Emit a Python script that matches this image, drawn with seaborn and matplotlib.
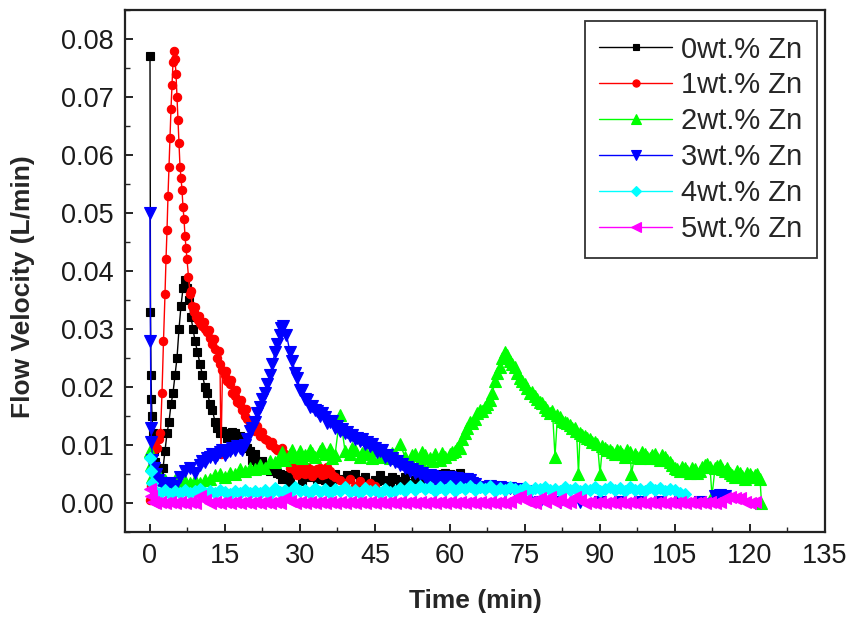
import numpy as np
import pandas as pd
import matplotlib
matplotlib.use("Agg")
import matplotlib.pyplot as plt
from matplotlib.ticker import AutoMinorLocator, FormatStrFormatter
import seaborn as sns

# ---------------- data: flow velocity (L/min) vs time (min) ----------------
labels = ["0wt.% Zn", "1wt.% Zn", "2wt.% Zn", "3wt.% Zn", "4wt.% Zn", "5wt.% Zn"]
colors = ["#000000", "#ff0000", "#00ff00", "#0000ff", "#00ffff", "#ff00ff"]
markers = ["s", "o", "^", "v", "D", "<"]

t_0 = [0, 0.1, 0.2, 0.3, 0.4, 0.6, 0.8, 1.0, 1.4, 1.8, 2.2, 2.6, 3.0, 3.4, 3.8, 4.2, 4.6, 5.0,
       5.4, 5.8, 6.2, 6.6, 7.0, 7.4, 7.8, 8.2, 8.6, 9.0, 9.5, 10.0, 10.5, 11.0, 11.5, 12.0, 12.5,
       13.0, 13.5, 14.0, 15, 16, 17, 18, 18.5, 19, 19.5, 20, 20.5, 21, 21.5, 22, 23, 24, 25, 26,
       27, 28, 29, 30, 31, 32, 33, 34, 35, 36, 37, 38, 39, 40, 41, 42, 43, 44, 45, 46, 47, 48, 49,
       50, 51, 52, 53, 54, 55, 56, 57, 58, 59, 60, 61, 62, 63]
v_0 = [0.077, 0.033, 0.022, 0.018, 0.015, 0.012, 0.009, 0.007, 0.006, 0.005, 0.004, 0.006, 0.009,
       0.012, 0.014, 0.017, 0.019, 0.022, 0.025, 0.030, 0.034, 0.037, 0.0385, 0.037, 0.035, 0.032,
       0.030, 0.028, 0.026, 0.024, 0.022, 0.020, 0.019, 0.017, 0.016, 0.014, 0.013, 0.012, 0.012,
       0.0118, 0.012, 0.0115, 0.0105, 0.010, 0.0095, 0.009, 0.0075, 0.0085, 0.007, 0.0065, 0.006,
       0.0055, 0.0058, 0.005, 0.0045, 0.0035, 0.005, 0.0052, 0.005, 0.0045, 0.0052, 0.005, 0.004,
       0.0048, 0.005, 0.0042, 0.0035, 0.0045, 0.005, 0.004, 0.0045, 0.0035, 0.004, 0.0048, 0.004,
       0.0035, 0.0042, 0.0038, 0.0045, 0.0035, 0.004, 0.003, 0.004, 0.0045, 0.0045, 0.005, 0.0052,
       0.005, 0.0048, 0.0052, 0.0045]
# extra readings between the whole minutes
t_0x = [14.5, 15.5, 16.5, 17.5, 22.5, 23.5, 24.5, 25.5, 26.5, 27.5, 30.5, 33.5, 36.5, 39.5, 42.5,
        45.5, 48.5, 51.5]
v_0x = [0.0125, 0.0112, 0.0122, 0.0112, 0.0072, 0.0058, 0.0062, 0.0052, 0.0042, 0.0048, 0.0038,
        0.0042, 0.0036, 0.0048, 0.0032, 0.0038, 0.0044, 0.0032]

t_1 = [0, 0.3, 0.6, 1.0, 1.4, 1.8, 2.1, 2.4, 2.7, 3.0, 3.2, 3.4, 3.6, 3.8, 4.0, 4.2, 4.4, 4.6, 4.8,
       5.0, 5.2, 5.4, 5.6, 5.8, 6.0, 6.2, 6.4, 6.6, 6.8, 7.0, 7.2, 7.4, 7.7, 8.0, 8.4, 8.8, 9.2, 9.6,
       10.0, 10.5, 11.0, 11.5, 12.0, 12.5, 13.0, 13.5, 14.0, 14.2, 14.5, 15.0, 15.5, 16.0, 16.5,
       17.0, 17.5, 18.0, 18.5, 19.0, 19.5, 20, 21, 22, 23, 24, 25, 26, 27, 28, 29, 30, 31, 32, 33,
       34, 35, 36, 37, 38, 39, 40, 41, 42, 43, 44, 45]
v_1 = [0.0005, 0.003, 0.009, 0.0105, 0.0095, 0.011, 0.012, 0.019, 0.028, 0.036, 0.042, 0.047,
       0.053, 0.058, 0.063, 0.068, 0.072, 0.076, 0.078, 0.0765, 0.074, 0.070, 0.066, 0.062, 0.058,
       0.056, 0.054, 0.051, 0.049, 0.046, 0.044, 0.042, 0.039, 0.036, 0.034, 0.033, 0.032, 0.0315,
       0.031, 0.0305, 0.030, 0.0295, 0.0285, 0.0275, 0.0265, 0.025, 0.024, 0.0085, 0.023, 0.022,
       0.021, 0.0205, 0.019, 0.0185, 0.0175, 0.017, 0.016, 0.015, 0.0145, 0.0135, 0.0125, 0.0115,
       0.011, 0.010, 0.0095, 0.009, 0.0085, 0.006, 0.0055, 0.006, 0.005, 0.0058, 0.0052, 0.006,
       0.005, 0.0055, 0.0045, 0.004, 0.0035, 0.0042, 0.003, 0.0038, 0.003, 0.0035, 0.003]
t_1x = [8.2, 9.0, 9.8, 10.8, 11.8, 12.8, 13.8, 15.2, 16.2, 17.2, 18.2, 19.2, 20.5, 21.5, 22.5,
        23.5, 24.5, 25.5, 26.5, 27.5, 28.5, 29.5, 30.5, 31.5, 32.5, 33.5, 34.5, 35.5, 36.5]
v_1x = [0.0365, 0.0338, 0.0322, 0.0312, 0.0298, 0.0282, 0.0262, 0.0228, 0.0212, 0.0195, 0.0178,
        0.0162, 0.0142, 0.0132, 0.0122, 0.0108, 0.0105, 0.0092, 0.0095, 0.0078, 0.0065, 0.0048,
        0.0052, 0.0062, 0.0046, 0.0058, 0.0048, 0.0062, 0.0048]

t_2 = [0, 0.2, 0.5, 1, 2, 3, 4, 5, 6, 7, 8, 9, 10, 11, 12, 13, 14, 15, 16, 17, 18, 19, 20, 21, 22,
       23, 24, 25, 26, 27, 28, 29, 30, 31, 32, 33, 34, 35, 36, 37, 38, 39, 40, 41, 42, 43, 44, 45,
       46, 47, 48, 49, 50, 51, 52, 53, 54, 55, 56, 57, 58, 59, 60, 61, 62, 63, 64, 65, 66, 67, 68,
       69, 70, 71, 72, 73, 74, 75, 76, 77, 78, 79, 80, 81, 81.5, 82, 83, 84, 85, 85.7, 86, 87, 88,
       89, 90, 90.5, 91, 92, 93, 94, 95, 96, 96.3, 97, 98, 99, 100, 101, 102, 103, 104, 105, 106,
       107, 108, 109, 110, 111, 112, 112.4, 113, 114, 115, 116, 117, 118, 119, 120, 121, 122, 122.3]
v_2 = [0.009, 0.0065, 0.0045, 0.0045, 0.0045, 0.004, 0.0035, 0.004, 0.003, 0.0038, 0.0035, 0.004,
       0.0035, 0.004, 0.0042, 0.0048, 0.005, 0.0045, 0.0052, 0.005, 0.0058, 0.0055, 0.006, 0.0058,
       0.0065, 0.006, 0.0072, 0.007, 0.008, 0.0075, 0.0085, 0.008, 0.009, 0.0082, 0.0092, 0.008,
       0.009, 0.0085, 0.0093, 0.0082, 0.0152, 0.009, 0.0085, 0.0092, 0.008, 0.009, 0.0085, 0.0092,
       0.008, 0.0088, 0.0078, 0.0085, 0.0101, 0.008, 0.0075, 0.0085, 0.0075, 0.0082, 0.0078,
       0.0085, 0.0075, 0.008, 0.0085, 0.009, 0.0095, 0.012, 0.014, 0.0145, 0.016, 0.0165, 0.0178,
       0.021, 0.0235, 0.026, 0.0245, 0.0235, 0.0215, 0.0205, 0.019, 0.0185, 0.0175, 0.0165,
       0.0155, 0.008, 0.0152, 0.0148, 0.014, 0.0135, 0.013, 0.005, 0.012, 0.0115, 0.011, 0.0105,
       0.005, 0.0098, 0.0095, 0.0092, 0.0085, 0.009, 0.008, 0.0088, 0.005, 0.0085, 0.0078, 0.0085,
       0.0078, 0.0085, 0.0075, 0.008, 0.007, 0.006, 0.0055, 0.006, 0.0052, 0.0058, 0.0055, 0.0065,
       0.0062, 0.0012, 0.006, 0.0066, 0.0055, 0.0052, 0.0045, 0.0052, 0.0042, 0.005, 0.0048,
       0.0042, 0.0]
t_2x = [26.5, 28.5, 30.5, 32.5, 34.5, 36.5, 40.5, 42.5, 44.5, 46.5, 48.5, 52.5, 54.5, 56.5, 58.5,
        60.5, 61.5, 62.5, 63.5, 64.5, 65.5, 66.5, 67.5, 68.5, 69.5, 70.5, 71.5, 72.5, 73.5, 74.5,
        75.5, 76.5, 77.5, 78.5, 79.5, 80.5, 82.5, 83.5, 84.5, 85.3, 86.5, 87.5, 88.5, 89.5, 91.5,
        92.5, 93.5, 94.5, 95.5, 97.5, 98.5, 99.5, 100.5, 101.5, 102.5, 103.5, 104.5, 105.5, 106.5,
        107.5, 108.5, 109.5, 110.5, 111.5, 113.5, 114.5, 115.5, 116.5, 117.5, 118.5, 119.5, 120.5,
        121.5]
v_2x = [0.0088, 0.0092, 0.0078, 0.0086, 0.0094, 0.0078, 0.0094, 0.0086, 0.0078, 0.0092, 0.0086,
        0.0082, 0.0088, 0.0072, 0.0086, 0.0088, 0.0095, 0.011, 0.013, 0.0138, 0.0155, 0.0158,
        0.017, 0.019, 0.0225, 0.025, 0.0255, 0.024, 0.0225, 0.021, 0.0198, 0.0192, 0.018, 0.0172,
        0.016, 0.0158, 0.0142, 0.0138, 0.013, 0.0125, 0.0118, 0.0112, 0.0105, 0.0102, 0.0092,
        0.0088, 0.0092, 0.0085, 0.0092, 0.008, 0.0088, 0.008, 0.0082, 0.0078, 0.0083, 0.0075,
        0.0065, 0.0058, 0.0062, 0.0055, 0.006, 0.0052, 0.0062, 0.0068, 0.0064, 0.0058, 0.006,
        0.0048, 0.0055, 0.0046, 0.0052, 0.0045, 0.005]

t_3 = [0, 0.1, 0.2, 0.3, 0.5, 0.8, 1.2, 1.7, 2.2, 3, 4, 5, 6, 7, 8, 9, 10, 11, 12, 13, 14, 15,
       16, 17, 18, 19, 20, 21, 22, 23, 24, 25, 26, 26.7, 27.3, 28, 29, 30, 31, 32, 33, 34, 35, 36,
       37, 38, 39, 40, 41, 42, 43, 44, 45, 46, 47, 48, 49, 50, 51, 52, 53, 54, 55, 56, 57, 58, 59,
       60, 61, 62, 63, 64, 65, 66, 67, 68, 69, 70, 71, 72, 73, 74, 75, 78, 82, 86, 90, 94, 98,
       102, 106, 110, 113, 114, 115]
v_3 = [0.050, 0.028, 0.013, 0.0105, 0.0075, 0.006, 0.005, 0.004, 0.0035, 0.003, 0.0035, 0.003,
       0.0045, 0.0055, 0.006, 0.0052, 0.0065, 0.007, 0.008, 0.0078, 0.0088, 0.0082, 0.009, 0.0092,
       0.0095, 0.010, 0.0125, 0.014, 0.0165, 0.019, 0.022, 0.026, 0.029, 0.0305, 0.029, 0.026,
       0.0225, 0.0195, 0.018, 0.0165, 0.016, 0.015, 0.0148, 0.014, 0.013, 0.0125, 0.012, 0.0115,
       0.011, 0.0107, 0.0102, 0.0098, 0.0095, 0.009, 0.008, 0.0075, 0.007, 0.0065, 0.006, 0.0055,
       0.0052, 0.005, 0.0045, 0.0048, 0.004, 0.0045, 0.0038, 0.0044, 0.0036, 0.0042, 0.0035,
       0.004, 0.0032, 0.0028, 0.0024, 0.003, 0.0022, 0.0028, 0.002, 0.0026, 0.002, 0.0025, 0.002,
       0.0001, 0.0001, 0.0001, 0.0001, 0.0001, 0.0001, 0.0001, 0.0001, 0.0001, 0.0012, 0.0013,
       0.0012]
t_3x = [10.5, 11.5, 12.5, 13.5, 14.5, 15.5, 16.5, 17.5, 18.5, 19.5, 20.5, 21.5, 22.5, 23.5, 24.5,
        25.5, 26.3, 28.5, 29.5, 30.5, 31.5, 32.5, 33.5, 34.5, 35.5, 36.5, 37.5, 38.5, 39.5, 40.5,
        41.5, 42.5, 43.5, 44.5, 45.5, 46.5, 47.5, 48.5, 49.5, 50.5, 51.5, 52.5, 53.5, 54.5, 55.5,
        56.5, 57.5, 58.5, 59.5, 60.5, 61.5, 62.5, 63.5, 64.5]
v_3x = [0.0072, 0.0078, 0.0085, 0.0082, 0.0092, 0.0088, 0.0095, 0.0098, 0.0092, 0.011, 0.013,
        0.0155, 0.018, 0.0205, 0.024, 0.0275, 0.0302, 0.0245, 0.0215, 0.0195, 0.0178, 0.0168,
        0.0158, 0.0155, 0.0138, 0.0142, 0.0132, 0.0128, 0.0122, 0.0118, 0.0112, 0.011, 0.0105,
        0.0102, 0.0088, 0.0092, 0.0082, 0.0078, 0.0072, 0.0068, 0.0062, 0.0058, 0.0055, 0.0052,
        0.0042, 0.0046, 0.0042, 0.0038, 0.0045, 0.0038, 0.0043, 0.0037, 0.0042, 0.0034]

t_4 = [0, 0.2, 0.4, 0.7, 1, 2, 3, 4, 5, 6, 7, 8, 9, 10, 11, 12, 13, 14, 15, 16, 17, 18, 19, 20,
       21, 22, 23, 24, 25, 26, 27, 28, 29, 30, 31, 32, 33, 34, 35, 36, 37, 38, 39, 40, 41, 42, 43,
       44, 45, 46, 47, 48, 49, 50, 51, 52, 53, 54, 55, 56, 57, 58, 59, 60, 61, 62, 63, 64, 65, 66,
       67, 68, 69, 70, 71, 72, 73, 74, 75, 76, 77, 78, 79, 80, 81, 82, 83, 84, 85, 86, 87, 88, 89,
       90, 91, 92, 93, 94, 95, 96, 97, 98, 99, 100, 101, 102, 103, 104, 105, 106, 107]
v_4 = [0.0078, 0.0055, 0.0035, 0.0025,
       0.002, 0.0018, 0.0022, 0.0016, 0.002, 0.0018, 0.0023, 0.0017, 0.002, 0.0024,
       0.0018, 0.0021, 0.0017, 0.0022, 0.0019, 0.0016, 0.0021, 0.0018, 0.0023, 0.0017,
       0.002, 0.0018, 0.0022, 0.0016, 0.0026, 0.0019, 0.0023, 0.0018, 0.0027, 0.002,
       0.0022, 0.0018, 0.0026, 0.0019, 0.0024, 0.0017, 0.0025, 0.002, 0.0028, 0.0019,
       0.0023, 0.0018, 0.0026, 0.002, 0.0022, 0.0017, 0.0024, 0.0019, 0.0021, 0.0026,
       0.002, 0.0029, 0.0022, 0.003, 0.0024, 0.0028, 0.002, 0.0027, 0.0023, 0.0029,
       0.0021, 0.0027, 0.0024, 0.003, 0.0022, 0.0028, 0.0025, 0.0029, 0.0021, 0.0026,
       0.0022, 0.0027, 0.0025, 0.0023, 0.0028, 0.0021, 0.0026, 0.0024, 0.0028, 0.0022,
       0.0025, 0.0021, 0.0027, 0.0023, 0.0026, 0.0021, 0.0025, 0.0022, 0.0027, 0.0021,
       0.0024, 0.0028, 0.0022, 0.0026, 0.0021, 0.0027, 0.0023, 0.0025, 0.0021, 0.0027,
       0.0022, 0.0026, 0.0021, 0.0025, 0.0022, 0.0018, 0.0015]
t_4x = []
v_4x = []

t_5 = [0, 0.3, 0.6, 1, 2, 3, 4, 5, 6, 7, 8, 9, 10, 11, 12, 13, 14, 15, 16, 17, 18, 19, 20, 21, 22,
       23, 24, 25, 26, 27, 28, 29, 30, 31, 32, 33, 34, 35, 36, 37, 38, 39, 40, 41, 42, 43, 44, 45,
       46, 47, 48, 49, 50, 51, 52, 53, 54, 55, 56, 57, 58, 59, 60, 61, 62, 63, 64, 65, 66, 67, 68,
       69, 70, 71, 72, 73, 74, 75, 76, 77, 78, 79, 80, 81, 82, 83, 84, 85, 86, 87, 88, 89, 90, 91,
       92, 93, 94, 95, 96, 97, 98, 99, 100, 101, 102, 103, 104, 105, 106, 107, 108, 109, 110, 111,
       112, 113, 114, 115, 116, 117, 118, 119, 120, 121]
v_5 = [0.0025, 0.0012, 0.0002,
       0.0, 0.0002, 0.0, 0.0002, 0.0, 0.0002, 0.0, 0.0002, 0.0, 0.0012,
       0.0006, 0.0, 0.0002, 0.0, 0.0002, 0.0, 0.0002, 0.0, 0.0002, 0.0,
       0.0002, 0.0, 0.0002, 0.0, 0.0002, 0.0, 0.0009, 0.0004, 0.0, 0.0002,
       0.0, 0.0002, 0.0, 0.0002, 0.0, 0.0002, 0.0, 0.0002, 0.0, 0.0002,
       0.0, 0.0002, 0.0, 0.0002, 0.0, 0.0002, 0.0, 0.0002, 0.0, 0.0002,
       0.0, 0.0002, 0.0, 0.0002, 0.0, 0.0002, 0.0, 0.0002, 0.0, 0.0002,
       0.0, 0.0002, 0.0, 0.0002, 0.0, 0.0002, 0.0, 0.0002, 0.0, 0.0002,
       0.0, 0.0002, 0.0008, 0.0012, 0.0006, 0.0002, 0.0, 0.0009, 0.0002, 0.0011,
       0.0002, 0.0007, 0.0, 0.0002, 0.001, 0.0005, 0.0, 0.0002, 0.0, 0.0002,
       0.0, 0.0002, 0.0, 0.0002, 0.0, 0.0002, 0.0, 0.0002, 0.0, 0.0002,
       0.0, 0.0002, 0.0, 0.0002, 0.0, 0.0002, 0.0, 0.0002, 0.0, 0.0002,
       0.0, 0.0002, 0.0, 0.0002, 0.0009, 0.001, 0.0008, 0.0009, 0.0002, 0.0, 0.0002]
t_5x = []
v_5x = []

times = [t_0 + t_0x, t_1 + t_1x, t_2 + t_2x, t_3 + t_3x, t_4 + t_4x, t_5 + t_5x]
values = [v_0 + v_0x, v_1 + v_1x, v_2 + v_2x, v_3 + v_3x, v_4 + v_4x, v_5 + v_5x]
marker_sizes = [5.4, 6.0, 8.6, 8.6, 5.8, 8.0]
legend_marker_sizes = [4.6, 5.2, 7.0, 7.0, 4.8, 7.4]

# ---------------- figure ----------------
sns.set_theme(style="white")
plt.rcParams["font.family"] = ["Liberation Sans", "DejaVu Sans"]

W, H = 853, 624
fig = plt.figure(figsize=(W / 100, H / 100), dpi=100)
ax = fig.add_axes([125 / W, 1 - 532 / H, 700 / W, 522 / H])

for lab, t, v, c, m, ms in zip(labels, times, values, colors, markers, marker_sizes):
    df = pd.DataFrame({"Time": t, "Flow": v})
    sns.lineplot(data=df, x="Time", y="Flow", ax=ax, color=c, marker=m, markersize=ms,
                 markeredgecolor=c, markeredgewidth=0.8, linewidth=1.0,
                 estimator=None, sort=True, label=lab)

ax.set_xlim(-5, 135)
ax.set_ylim(-0.005, 0.085)
ax.set_xticks([0, 15, 30, 45, 60, 75, 90, 105, 120, 135])
ax.set_yticks([0.0, 0.01, 0.02, 0.03, 0.04, 0.05, 0.06, 0.07, 0.08])
ax.yaxis.set_major_formatter(FormatStrFormatter("%.2f"))
ax.xaxis.set_minor_locator(AutoMinorLocator(2))
ax.yaxis.set_minor_locator(AutoMinorLocator(2))

tick_color = "#1a1a1a"
ax.tick_params(axis="both", which="major", direction="in", length=6, width=1.2,
               labelsize=19.5, pad=8, colors="black", labelcolor=tick_color,
               bottom=True, left=True, top=False, right=False)
ax.tick_params(axis="both", which="minor", direction="in", length=3.5, width=1.0,
               bottom=True, left=True, top=False, right=False)

for sp in ax.spines.values():
    sp.set_visible(True)
    sp.set_color("#222222")
    sp.set_linewidth(1.6)

ax.set_xlabel("Time (min)", fontsize=19, fontweight="bold")
ax.set_ylabel("Flow Velocity (L/min)", fontsize=19, fontweight="bold")
ax.xaxis.set_label_coords(0.5, -0.11)
ax.yaxis.set_label_coords(-0.128, 0.47)

leg = ax.legend(loc="upper right", bbox_to_anchor=(692 / 700, 1 - 11 / 522), borderaxespad=0,
                frameon=True, fancybox=False, edgecolor="black", fontsize=21,
                handlelength=2.5, handletextpad=0.3, labelspacing=0.27, borderpad=0.5)
leg.get_frame().set_linewidth(1.3)
leg.get_frame().set_facecolor("white")
for h, s in zip(leg.legend_handles, legend_marker_sizes):
    h.set_markersize(s)

fig.savefig("out.png", dpi=100)
